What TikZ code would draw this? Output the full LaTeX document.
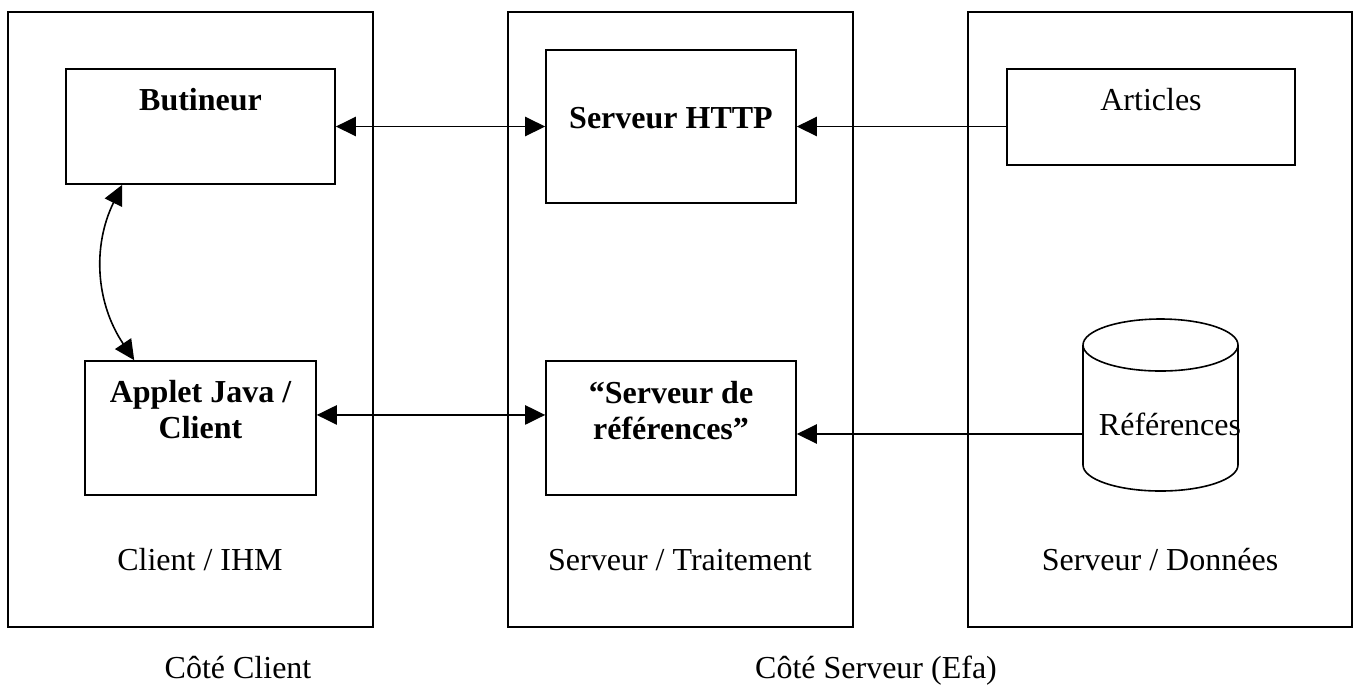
\documentclass[tikz,border=0pt]{standalone}
\usepackage{fontspec}
\setmainfont{Liberation Serif}
\usepackage{tikz}
\usetikzlibrary{arrows.meta,positioning}

\begin{document}
\begin{tikzpicture}[x=0.375pt,y=-0.375pt,line width=0.6pt,
		>={Triangle[length=7.5pt,width=7.2pt]},
		panel/.style={draw,inner sep=0pt},
		box/.style={draw,inner sep=0pt},
		lbl/.style={inner sep=0pt,font=\fontsize{12}{13.8}\selectfont},
		blbl/.style={lbl,font=\fontsize{12}{13.8}\selectfont\bfseries,align=center}]
		\useasboundingbox (0,0) rectangle (1359,688);
		\node[panel,minimum width=136.9pt,minimum height=230.6pt] (pcli) at (190.5,319.5) {};
		\node[panel,minimum width=129.4pt,minimum height=230.6pt] (ptrt) at (680.5,319.5) {};
		\node[panel,minimum width=144pt,minimum height=230.6pt] (pdon) at (1160,319.5) {};
		\node[box,minimum width=100.9pt,minimum height=43.1pt] (but) at (200.5,126.5) {};
		\node[box,minimum width=93.75pt,minimum height=57.4pt] (http) at (671,126.5) {};
		\node[box,minimum width=108pt,minimum height=36pt] (art) at (1151,117) {};
		\node[box,minimum width=86.6pt,minimum height=50.25pt] (app) at (200.5,428) {};
		\node[box,minimum width=93.75pt,minimum height=50.25pt] (srv) at (671,428) {};
		\node[blbl,anchor=base] (tbut) at (200.5,110) {Butineur};
		\node[blbl,anchor=base] (thttp) at (671,128) {Serveur HTTP};
		\node[lbl,anchor=base] (tart) at (1151,110) {Articles};
		\node[blbl,anchor=north] (tapp) at (200.5,379) {Applet Java /\\Client};
		\node[blbl,anchor=north] (tsrv) at (671,380) {“Serveur de\\références”};
		\draw (1083,345) -- (1083,465) arc[start angle=180,end angle=360,x radius=29.06pt,y radius=9.75pt] -- (1238,345);
		\draw (1160.5,345) ellipse [x radius=29.06pt,y radius=9.75pt];
		\coordinate (refw) at (1083,434);
		\node[lbl,anchor=base] (tref) at (1170,435) {Références};
		\node[lbl,anchor=base] (tcli) at (200,570) {Client / IHM};
		\node[lbl,anchor=base] (ttrt) at (680,570) {Serveur / Traitement};
		\node[lbl,anchor=base] (tdon) at (1160,570) {Serveur / Données};
		\node[lbl,anchor=base] (cclient) at (238,678) {Côté Client};
		\node[lbl,anchor=base] (cserveur) at (876,678) {Côté Serveur (Efa)};
		\draw[<->] (but.east) -- (http.west);
		\draw[->] (art.west |- http.east) -- (http.east);
		\draw[<->] ([xshift=21.4pt]but.south west) to[bend right=30] ([xshift=18.75pt]app.north west);
		\draw[<->] ([yshift=4.9pt]app.east) -- ([yshift=4.9pt]srv.west);
		\draw[->] (refw) -- (refw -| srv.east);
	\end{tikzpicture}
\end{document}
